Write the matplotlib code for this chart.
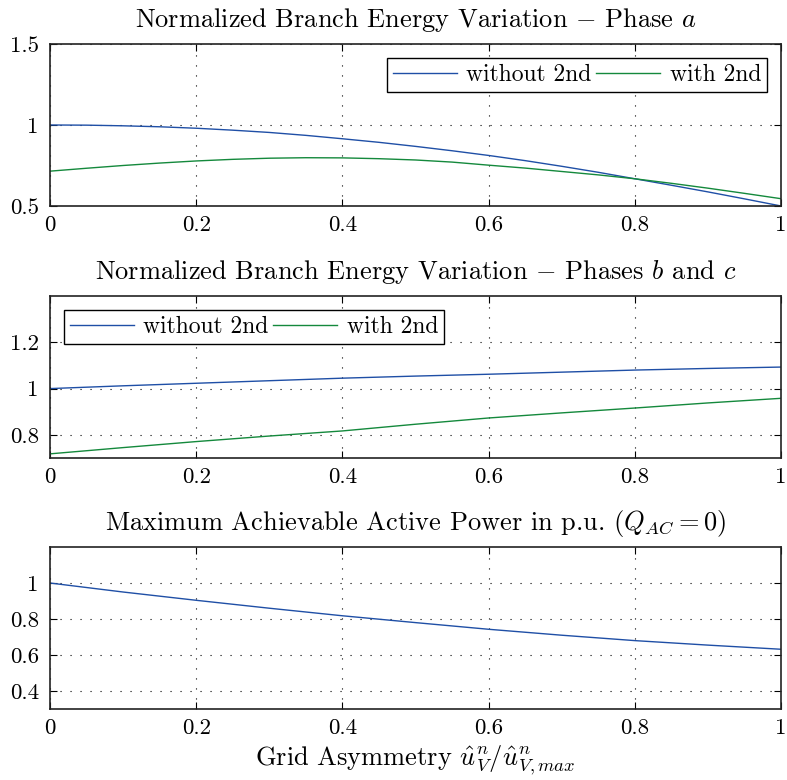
import matplotlib
matplotlib.use("Agg")
import matplotlib.pyplot as plt

plt.rcParams['font.family'] = ['cmr10', 'DejaVu Serif']
plt.rcParams['mathtext.fontset'] = 'cm'
plt.rcParams['axes.formatter.use_mathtext'] = True
plt.rcParams['axes.unicode_minus'] = False

# Grid asymmetry (x axis), fine steps for the phase a curves
asym_fine = [0.0, 0.05, 0.1, 0.15, 0.2, 0.25, 0.3, 0.35, 0.4, 0.45, 0.5,
             0.55, 0.6, 0.65, 0.7, 0.75, 0.8, 0.85, 0.9, 0.95, 1.0]
asym = [0.0, 0.1, 0.2, 0.3, 0.4, 0.5, 0.6, 0.7, 0.8, 0.9, 1.0]

# Phase a
phase_a_without = [1.0, 0.999, 0.995, 0.989, 0.98, 0.968, 0.954, 0.936, 0.915, 0.893, 0.868,
                   0.841, 0.812, 0.78, 0.745, 0.708, 0.668, 0.628, 0.587, 0.544, 0.50]
phase_a_with = [0.715, 0.733, 0.75, 0.765, 0.778, 0.788, 0.795, 0.798, 0.797, 0.792, 0.784,
                0.771, 0.752, 0.734, 0.713, 0.692, 0.668, 0.64, 0.61, 0.578, 0.545]

# Phases b and c
phase_bc_without = [1.0, 1.012, 1.023, 1.034, 1.045, 1.054, 1.062, 1.071, 1.08, 1.087, 1.093]
phase_bc_with = [0.718, 0.745, 0.771, 0.795, 0.817, 0.846, 0.873, 0.895, 0.916, 0.938, 0.958]

# Maximum achievable active power
p_max = [1.0, 0.95, 0.904, 0.86, 0.818, 0.78, 0.743, 0.71, 0.68, 0.655, 0.632]

blue = '#1f4fa6'
green = '#14893c'
xticks = [0, 0.2, 0.4, 0.6, 0.8, 1]
xtick_labels = ['0', '0.2', '0.4', '0.6', '0.8', '1']


def style_axes(ax, ylim, yticks, ytick_labels):
    ax.set_xlim(0, 1)
    ax.set_ylim(*ylim)
    ax.set_xticks(xticks)
    ax.set_xticklabels(xtick_labels)
    ax.set_yticks(yticks)
    ax.set_yticklabels(ytick_labels)
    ax.grid(True, linestyle=(0, (1, 8)), color='black', linewidth=0.8)
    ax.tick_params(direction='in', top=True, right=True, labelsize=16.5,
                   length=5, width=0.8)
    ax.tick_params(axis='x', pad=7)
    ax.tick_params(axis='y', pad=8)
    for sp in ax.spines.values():
        sp.set_linewidth(1.2)
        sp.set_color('#222222')


def add_legend(ax, loc):
    leg = ax.legend(loc=loc, ncol=2, fontsize=17, fancybox=False,
                    edgecolor='black', framealpha=1, handlelength=2.7,
                    columnspacing=0.2, handletextpad=0.4, borderaxespad=0.6,
                    borderpad=0.25)
    leg.get_frame().set_linewidth(1.0)


fig = plt.figure(figsize=(7.87, 7.8), dpi=100)
left, width, height = 0.0635, 0.929, 0.2077

# Phase a
ax1 = fig.add_axes([left, 0.7359, width, height])
ax1.plot(asym_fine, phase_a_without, color=blue, lw=1.0, label='without 2nd')
ax1.plot(asym_fine, phase_a_with, color=green, lw=1.0, label='with 2nd')
style_axes(ax1, (0.5, 1.5), [0.5, 1, 1.5], ['0.5', '1', '1.5'])
ax1.set_title('Normalized Branch Energy Variation $-$ Phase $a$', fontsize=19, pad=12)
add_legend(ax1, 'upper right')

# Phases b and c
ax2 = fig.add_axes([left, 0.4128, width, height])
ax2.plot(asym, phase_bc_without, color=blue, lw=1.0, label='without 2nd')
ax2.plot(asym, phase_bc_with, color=green, lw=1.0, label='with 2nd')
style_axes(ax2, (0.7, 1.4), [0.8, 1, 1.2], ['0.8', '1', '1.2'])
ax2.set_title('Normalized Branch Energy Variation $-$ Phases $b$ and $c$', fontsize=19, pad=12)
add_legend(ax2, 'upper left')

# Maximum active power
ax3 = fig.add_axes([left, 0.091, width, height])
ax3.plot(asym, p_max, color=blue, lw=1.0)
style_axes(ax3, (0.3, 1.2), [0.4, 0.6, 0.8, 1], ['0.4', '0.6', '0.8', '1'])
ax3.set_title('Maximum Achievable Active Power in p.u. $(Q_{AC}=0)$', fontsize=19, pad=12)
ax3.set_xlabel('Grid Asymmetry $\\hat{u}_V^n/\\hat{u}_{V,max}^n$', fontsize=19, labelpad=4)

fig.savefig('out.png', dpi=100)
